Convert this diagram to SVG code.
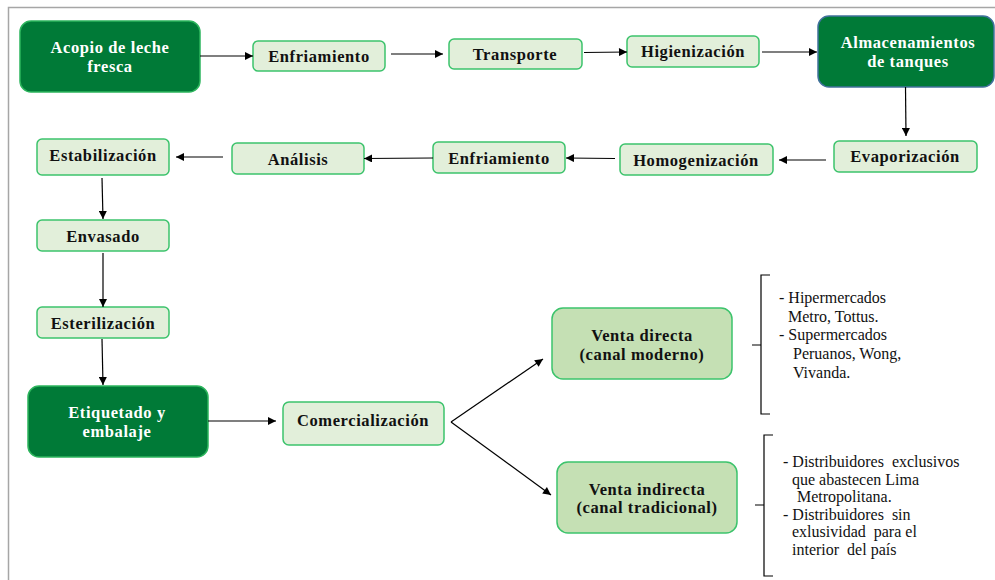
<svg xmlns="http://www.w3.org/2000/svg" width="995" height="580" viewBox="0 0 995 580">
<style>
.lt{fill:#E2EFDA;stroke:#3CC36C;stroke-width:1.5}
.dk{fill:#007A37;stroke:#2DB55D;stroke-width:1.5}
.vt{fill:#C5E0B4;stroke:#3CC36C;stroke-width:1.5}
.tb{font-family:"Liberation Serif","DejaVu Serif",serif;font-weight:bold;font-size:16.5px;letter-spacing:0.6px;text-anchor:middle;fill:#111}
.tw{font-family:"Liberation Serif","DejaVu Serif",serif;font-weight:bold;font-size:16.5px;letter-spacing:0.6px;text-anchor:middle;fill:#fff}
.tn{font-family:"Liberation Serif","DejaVu Serif",serif;font-size:16px;fill:#111}
.cn{stroke:#000;stroke-width:1.2;fill:none}
.br{stroke:#000;stroke-width:1.2;fill:none}
</style>
<defs>
<marker id="ah" viewBox="0 0 10 10" refX="10" refY="5" markerWidth="9" markerHeight="8" markerUnits="userSpaceOnUse" orient="auto">
<path d="M0,0 L10,5 L0,10 z" fill="#000"/>
</marker>
</defs>
<rect width="995" height="580" fill="#fff"/>
<path d="M8.5,580 V7.5 H995" stroke="#A6A6A6" stroke-width="1.5" fill="none"/>

<g id="n-acopio"><rect class="dk" x="20" y="21" width="180" height="71" rx="11"/><text class="tw" x="110" y="53">Acopio de leche</text><text class="tw" x="110" y="72">fresca</text></g>
<g id="n-enfriamiento1"><rect class="lt" x="253" y="41" width="132" height="30" rx="5"/><text class="tb" x="319" y="62">Enfriamiento</text></g>
<g id="n-transporte"><rect class="lt" x="449" y="39" width="133" height="30" rx="5"/><text class="tb" x="515" y="60">Transporte</text></g>
<g id="n-higienizacion"><rect class="lt" x="627" y="36" width="132" height="31" rx="5"/><text class="tb" x="693" y="57">Higienización</text></g>
<g id="n-almacen"><rect x="818" y="16" width="176" height="71" rx="11" fill="#007A37" stroke="#41719C" stroke-width="1.5"/><text class="tw" x="908" y="48">Almacenamientos</text><text class="tw" x="908" y="67">de tanques</text></g>
<g id="n-evaporizacion"><rect class="lt" x="834" y="141" width="143" height="31" rx="5"/><text class="tb" x="905" y="162">Evaporización</text></g>
<g id="n-homogenizacion"><rect class="lt" x="620" y="144" width="153" height="31" rx="5"/><text class="tb" x="696" y="166">Homogenización</text></g>
<g id="n-enfriamiento2"><rect class="lt" x="433" y="142" width="132" height="31" rx="5"/><text class="tb" x="499" y="164">Enfriamiento</text></g>
<g id="n-analisis"><rect class="lt" x="232" y="143" width="132" height="31" rx="5"/><text class="tb" x="298" y="165">Análisis</text></g>
<g id="n-estabilizacion"><rect class="lt" x="37" y="139" width="132" height="36" rx="5"/><text class="tb" x="103" y="161">Estabilización</text></g>
<g id="n-envasado"><rect class="lt" x="37" y="220" width="132" height="31" rx="5"/><text class="tb" x="103" y="242">Envasado</text></g>
<g id="n-esterilizacion"><rect class="lt" x="37" y="307" width="132" height="31" rx="5"/><text class="tb" x="103" y="329">Esterilización</text></g>
<g id="n-etiquetado"><rect class="dk" x="28" y="386" width="180" height="71" rx="11"/><text class="tw" x="117" y="418">Etiquetado y</text><text class="tw" x="117" y="437">embalaje</text></g>
<g id="n-comercializacion"><rect class="lt" x="283" y="402" width="161" height="43" rx="6"/><text class="tb" x="363" y="426">Comercialización</text></g>
<g id="n-venta-directa"><rect class="vt" x="552" y="308" width="180" height="71" rx="11"/><text class="tb" x="642" y="341">Venta directa</text><text class="tb" x="642" y="360">(canal moderno)</text></g>
<g id="n-venta-indirecta"><rect class="vt" x="557" y="462" width="180" height="71" rx="11"/><text class="tb" x="647" y="495">Venta indirecta</text><text class="tb" x="647" y="513">(canal tradicional)</text></g>

<g id="n-lista-directa">
<path class="br" d="M770,275 H761 V345 H752 M761,345 V414 H770"/>
<text class="tn" x="779" y="303">- Hipermercados</text>
<text class="tn" x="788" y="322">Metro, Tottus.</text>
<text class="tn" x="779" y="340">- Supermercados</text>
<text class="tn" x="793" y="359">Peruanos, Wong,</text>
<text class="tn" x="793" y="378">Vivanda.</text>
</g>
<g id="n-lista-indirecta">
<path class="br" d="M773,435 H764 V505 H755 M764,505 V576 H773"/>
<text class="tn" x="783" y="467" xml:space="preserve">- Distribuidores  exclusivos</text>
<text class="tn" x="792" y="485">que abastecen Lima</text>
<text class="tn" x="797" y="502">Metropolitana.</text>
<text class="tn" x="783" y="520" xml:space="preserve">- Distribuidores  sin</text>
<text class="tn" x="792" y="537" xml:space="preserve">exlusividad  para el</text>
<text class="tn" x="792" y="555" xml:space="preserve">interior  del país</text>
</g>

<g id="connectors">
<line class="cn" x1="200" y1="56" x2="253" y2="56" marker-end="url(#ah)"/>
<line class="cn" x1="391" y1="54" x2="443" y2="54" marker-end="url(#ah)"/>
<line class="cn" x1="584" y1="52.5" x2="627" y2="52" marker-end="url(#ah)"/>
<line class="cn" x1="762" y1="52" x2="817" y2="52" marker-end="url(#ah)"/>
<line class="cn" x1="905.5" y1="87" x2="906" y2="136" marker-end="url(#ah)"/>
<line class="cn" x1="826" y1="160" x2="779" y2="160" marker-end="url(#ah)"/>
<line class="cn" x1="615" y1="158.5" x2="566" y2="158" marker-end="url(#ah)"/>
<line class="cn" x1="433" y1="158" x2="364" y2="158.5" marker-end="url(#ah)"/>
<line class="cn" x1="223" y1="157" x2="176" y2="157" marker-end="url(#ah)"/>
<line class="cn" x1="102" y1="178" x2="103" y2="219" marker-end="url(#ah)"/>
<line class="cn" x1="103" y1="253" x2="103" y2="307" marker-end="url(#ah)"/>
<line class="cn" x1="102" y1="339" x2="103" y2="385" marker-end="url(#ah)"/>
<line class="cn" x1="208" y1="421" x2="276" y2="421" marker-end="url(#ah)"/>
<line class="cn" x1="451" y1="422" x2="543" y2="359" marker-end="url(#ah)"/>
<line class="cn" x1="451" y1="422" x2="551" y2="495" marker-end="url(#ah)"/>
</g>
</svg>
